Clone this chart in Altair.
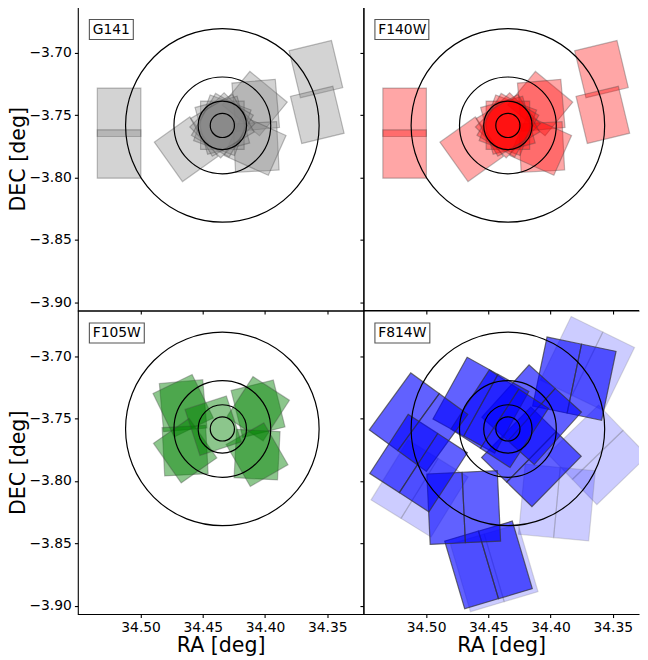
import altair as alt
import pandas as pd

# ---------------- axes ----------------
RA_MIN, RA_MAX = 34.3209, 34.5504
DEC_MIN, DEC_MAX = -3.9067, -3.6634
RA_TICKS = [34.50, 34.45, 34.40, 34.35]
DEC_TICKS = [-3.70, -3.75, -3.80, -3.85, -3.90]

W_LEFT, W_RIGHT, H = 286, 276, 304
PX_PER_DEG = W_LEFT / (RA_MAX - RA_MIN)
RA_MIN_RIGHT = RA_MAX - W_RIGHT / PX_PER_DEG

# ---------------- target + circles ----------------
target_ra = 34.4343
target_dec = -3.7583
circle_radius_arcsec = [35, 70, 140, 280]

# ---------------- WFC3/IR footprints (G141 and F140W share pointings) ----------------
ir_size_arcsec = [126, 140]
g141_ra = [34.5173, 34.5173, 34.3591, 34.3580, 34.4634, 34.4083, 34.4075, 34.4072, 34.4080,
           34.4343, 34.4343, 34.4343, 34.4343, 34.4343, 34.4343]
g141_dec = [-3.7478, -3.7812, -3.7132, -3.7498, -3.7774, -3.7408, -3.7422, -3.7756, -3.7744,
            -3.7582, -3.7582, -3.7582, -3.7582, -3.7582, -3.7582]
g141_pa = [0, 0, 346.5, 346.5, 324.5, 309.5, 355, 357, 294,
           0, 345, 20, 45, 30, 60]

f105w_ra = [34.4658, 34.4658, 34.4056, 34.4056, 34.4642, 34.4642, 34.4064, 34.4064, 34.4417]
f105w_dec = [-3.7397, -3.7397, -3.7421, -3.7421, -3.7757, -3.7757, -3.7789, -3.7789, -3.7557]
f105w_pa = [355, 334, 346, 33, 357, 325, 3, 330, 342]

# ---------------- ACS/WFC footprints (F814W) ----------------
acs_size_arcsec = 204
f814w_ra = [34.3704, 34.3621, 34.3949, 34.5053, 34.4453,
            34.3809, 34.4560, 34.5061, 34.5061, 34.4499, 34.4698, 34.4154, 34.4152, 34.4409]
f814w_dec = [-3.7060, -3.7791, -3.8173, -3.8060, -3.8697,
             -3.7180, -3.7393, -3.7529, -3.7857, -3.8673, -3.8213, -3.7807, -3.7469, -3.7501]
f814w_pa = [26, 46, 5.4, 31.7, 343.5,
            11.8, 29, 36, 33, 343.5, 357.3, 44.4, 42, 33]
f814w_deep = [False, False, False, False, False,
              True, True, True, True, True, True, True, True, True]

panel_names = ["G141", "F140W", "F105W", "F814W"]
box_widths = [44, 54, 55, 55]

FONT = "DejaVu Sans"
IR_PATH = "M-0.9,-1L0.9,-1L0.9,1L-0.9,1Z"
ACS_LEFT = "M-1,-1L0,-1L0,1L-1,1Z"
ACS_RIGHT = "M0,-1L1,-1L1,1L0,1Z"


def px(arcsec):
    return arcsec / 3600.0 * PX_PER_DEG


def panel(idx, fp_layers, right, bottom):
    w = W_RIGHT if right else W_LEFT
    xdom = [RA_MIN_RIGHT if right else RA_MIN, RA_MAX]
    xs = alt.Scale(domain=xdom, reverse=True, nice=False, zero=False)
    ys = alt.Scale(domain=[DEC_MIN, DEC_MAX], nice=False, zero=False)
    xaxis = alt.Axis(values=RA_TICKS, format=".2f", labels=bottom,
                     title="RA [deg]" if bottom else None, grid=False,
                     domain=right, domainColor="black", domainWidth=1.1,
                     tickSize=3.5, tickColor="black", tickWidth=1.1,
                     labelPadding=2.5, labelFontSize=13.9, labelFont=FONT,
                     labelColor="black", titleFont=FONT, titleFontSize=20.6,
                     titleFontWeight="normal", titleColor="black", titlePadding=2)
    yaxis = alt.Axis(values=DEC_TICKS, format=".2f", labels=not right,
                     title=None if right else "DEC [deg]", grid=False,
                     domain=right, domainColor="black", domainWidth=1.1,
                     tickSize=3.5, tickColor="black", tickWidth=1.1,
                     labelPadding=3, labelFontSize=13.9, labelFont=FONT,
                     labelColor="black", titleFont=FONT, titleFontSize=20.6,
                     titleFontWeight="normal", titleColor="black", titlePadding=0)
    enc_x = alt.X("ra:Q", scale=xs, axis=xaxis)
    enc_y = alt.Y("dec:Q", scale=ys, axis=yaxis)

    layers = []
    for df, shape, size, fill, fop, stroke, sop in fp_layers:
        layers.append(
            alt.Chart(df).mark_point(shape=shape, filled=True, fill=fill, fillOpacity=fop,
                                     stroke=stroke, strokeOpacity=sop, strokeWidth=1.2,
                                     size=size, clip=True)
            .encode(x=enc_x, y=enc_y, angle=alt.Angle("pa:Q", scale=None))
        )

    circ = pd.DataFrame({
        "ra": [target_ra] * len(circle_radius_arcsec),
        "dec": [target_dec] * len(circle_radius_arcsec),
        "sz": [(2 * px(r)) ** 2 for r in circle_radius_arcsec],
    })
    layers.append(
        alt.Chart(circ).mark_point(shape="circle", filled=False, stroke="black",
                                   strokeWidth=1.2, opacity=1, clip=True)
        .encode(x=enc_x, y=enc_y, size=alt.Size("sz:Q", scale=None))
    )

    lab = pd.DataFrame({"name": [panel_names[idx]]})
    layers.append(
        alt.Chart(lab).mark_rect(fill="white", stroke="#555555", strokeWidth=1.1)
        .encode(x=alt.value(11.5), x2=alt.value(11.5 + box_widths[idx]),
                y=alt.value(12.5), y2=alt.value(32.5))
    )
    layers.append(
        alt.Chart(lab).mark_text(font=FONT, fontSize=13.9, align="left",
                                 baseline="middle", color="black")
        .encode(x=alt.value(14.8), y=alt.value(23), text="name:N")
    )
    if right:
        layers.append(
            alt.Chart(lab).mark_rule(color="black", strokeWidth=1.1)
            .encode(x=alt.value(0), x2=alt.value(w), y=alt.value(0))
        )
    view = (alt.ViewBackground(stroke=None) if right
            else alt.ViewBackground(stroke="black", strokeWidth=1.1))
    return alt.layer(*layers).properties(width=w, height=H, view=view)


ir_size = px(ir_size_arcsec[1]) ** 2
acs_size = px(acs_size_arcsec) ** 2

g141_df = pd.DataFrame({"ra": g141_ra, "dec": g141_dec, "pa": g141_pa})
f105_df = pd.DataFrame({"ra": f105w_ra, "dec": f105w_dec, "pa": f105w_pa})
acs_df = pd.DataFrame({"ra": f814w_ra, "dec": f814w_dec, "pa": f814w_pa, "deep": f814w_deep})
acs_light = acs_df[~acs_df["deep"]]
acs_dark = acs_df[acs_df["deep"]]

tl = panel(0, [(g141_df, IR_PATH, ir_size, "gray", 0.35, "#444444", 0.35)], False, False)
tr = panel(1, [(g141_df, IR_PATH, ir_size, "red", 0.35, "#444444", 0.35)], True, False)
bl = panel(2, [(f105_df, IR_PATH, ir_size, "green", 0.45, "#444444", 0.35)], False, True)
br = panel(3, [
    (acs_light, ACS_LEFT, acs_size, "blue", 0.2, "#777777", 0.25),
    (acs_light, ACS_RIGHT, acs_size, "blue", 0.2, "#777777", 0.25),
    (acs_dark, ACS_LEFT, acs_size, "blue", 0.62, "#333333", 0.7),
    (acs_dark, ACS_RIGHT, acs_size, "blue", 0.62, "#333333", 0.7),
], True, True)

chart = alt.concat(tl, tr, bl, br, columns=2, spacing=0, bounds="flush").properties(
    padding={"left": 0, "top": -2.5, "right": 0, "bottom": 0}
).configure_view(stroke="black", strokeWidth=1.1)

chart.save("out.html", embed_options={"renderer": "svg", "actions": False})
